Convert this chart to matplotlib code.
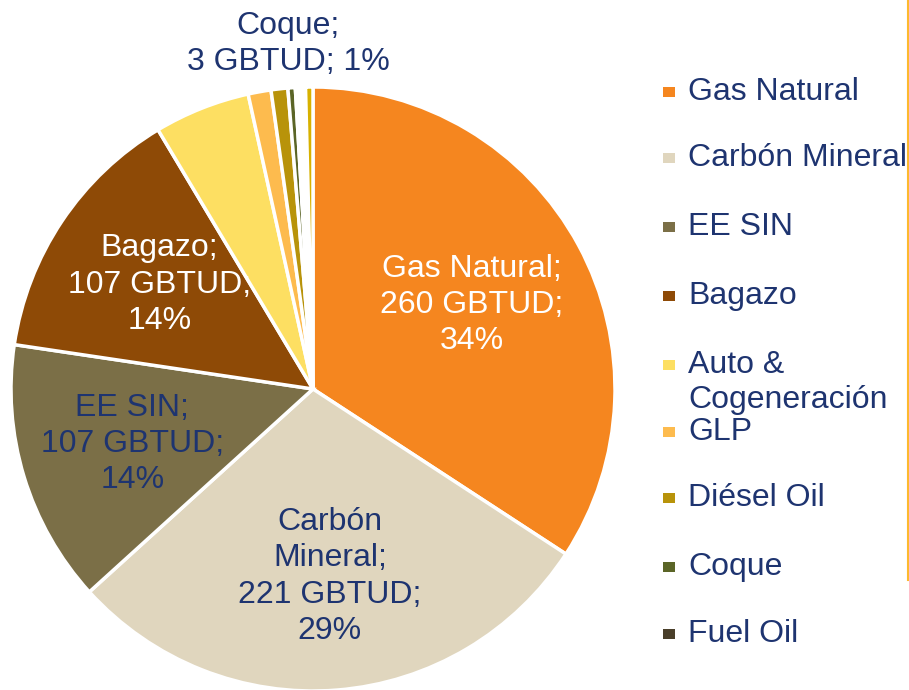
import matplotlib
matplotlib.use("Agg")
import matplotlib.pyplot as plt
from matplotlib.patches import Rectangle
from matplotlib.lines import Line2D

plt.rcParams['font.family'] = ['Liberation Sans', 'DejaVu Sans']

categories = ["Gas Natural", "Carbón Mineral", "EE SIN", "Bagazo",
              "Auto &\nCogeneración", "GLP", "Diésel Oil", "Coque", "Fuel Oil",
              "Otros 1", "Otros 2"]
values = [260, 221, 107, 107, 39, 9.3, 6.8, 3, 0.3, 3.8, 3]
colors = ["#F5861F", "#E0D6BE", "#7B6F47", "#8E4A06", "#FDDF62", "#FDBB4E",
          "#B8930A", "#5B6527", "#4A3F2A", "#FFFFFF", "#D7B100"]
legend_count = 9
labels_shown = {0: ("Gas Natural;\n260 GBTUD;\n34%", "white"),
                1: ("Carbón\nMineral;\n221 GBTUD;\n29%", "#1E3470"),
                2: ("EE SIN;\n107 GBTUD;\n14%", "#1E3470"),
                3: ("Bagazo;\n107 GBTUD;\n14%", "white"),
                7: ("Coque;\n3 GBTUD; 1%", "#1E3470")}
label_pos = {0: (0.525, 0.279), 1: (0.056, -0.621), 2: (-0.598, -0.183),
             3: (-0.508, 0.346), 7: (-0.083, 1.142)}

navy = "#1E3470"
FS = 23

fig = plt.figure(figsize=(9.09, 6.90), dpi=100)
ax = fig.add_axes([11/909, -1/690, 604/909, 604/690])
ax.pie(values, colors=colors, startangle=90, counterclock=False,
       wedgeprops=dict(edgecolor="white", linewidth=2.5), radius=1.0)
ax.set_xlim(-1.0, 1.0)
ax.set_ylim(-1.0, 1.0)
ax.set_aspect("equal")
ax.axis("off")

for i, (txt, col) in labels_shown.items():
    x, y = label_pos[i]
    ax.text(x, y, txt, ha="center", va="center", color=col, fontsize=FS,
            linespacing=1.27, clip_on=False)

# legend (manual layout)
leg_y = [92, 158, 227, 296, 365, 432, 498, 567, 634]
for i in range(legend_count):
    ypx = leg_y[i]
    fig.patches.append(Rectangle((663/909, 1 - (ypx + 5)/690), 12/909, 10/690,
                                 transform=fig.transFigure, facecolor=colors[i],
                                 edgecolor="none"))
    for k, line in enumerate(categories[i].split("\n")):
        fig.text(688/909, 1 - (ypx + 35 * k)/690, line, ha="left", va="center",
                 color=navy, fontsize=FS, transform=fig.transFigure)

fig.lines.append(Line2D([908/909, 908/909], [1.0, 1 - 580/690],
                        transform=fig.transFigure, color="#FDB92E", linewidth=1.5))

fig.savefig("out.png", dpi=100, facecolor="white")
